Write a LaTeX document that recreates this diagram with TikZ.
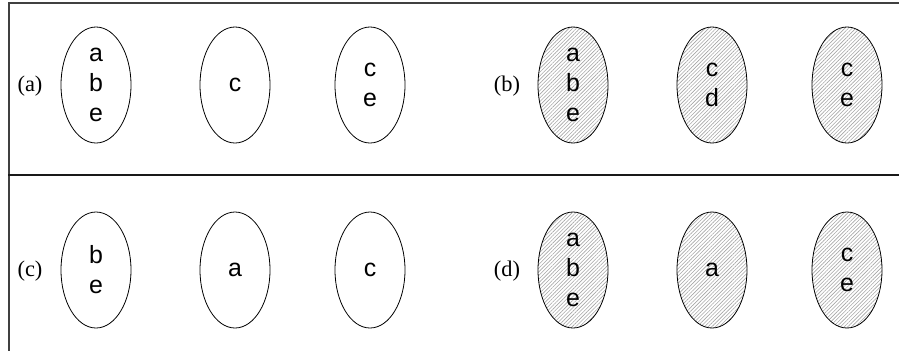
\documentclass[tikz,border=0pt]{standalone}
\usepackage{fontspec}
\setmainfont{Liberation Serif}
\setsansfont{Liberation Sans}
\usetikzlibrary{shapes.geometric,patterns.meta}
\tikzset{
  setnode/.style={draw=black, line width=0.8bp, ellipse, minimum width=70bp, minimum height=116bp, inner sep=0pt,
    align=center, font=\sffamily\fontsize{25}{30}\selectfont},
  hatched/.style={setnode, fill=gray!12, pattern={Lines[angle=45,distance=2.6bp,line width=0.6bp]}, pattern color=gray!70},
  lbl/.style={font=\rmfamily\fontsize{22.5}{26}\selectfont, inner sep=0pt},
  frameline/.style={line width=1.5bp, draw=black!75},
}
\begin{document}
\begin{tikzpicture}[x=1bp,y=-1bp]
\useasboundingbox (0,0) rectangle (899,351);
% frame
\coordinate (tl) at (9,3);
\coordinate (tr) at (899,3);
\coordinate (bl) at (9,351);
\coordinate (ml) at (8,175);
\coordinate (mr) at (899,175);
\draw[frameline] (tr) -- (tl) -- (bl);
\draw[line width=2.2bp, black!90] (ml) -- (mr);
% (a)
\node[lbl] (la) at (30,86) {(a)};
\node[setnode] (a1) at (96,85) {a\\b\\e};
\node[setnode] (a2) at (235,85) {c};
\node[setnode] (a3) at (370,85) {c\\e};
% (b)
\node[lbl] (lb) at (507,86) {(b)};
\node[hatched] (b1) at (573,85) {a\\b\\e};
\node[hatched] (b2) at (712,85) {c\\d};
\node[hatched] (b3) at (847,85) {c\\e};
% (c)
\node[lbl] (lc) at (30,271) {(c)};
\node[setnode] (c1) at (96,270) {b\\e};
\node[setnode] (c2) at (235,270) {a};
\node[setnode] (c3) at (370,270) {c};
% (d)
\node[lbl] (ld) at (507,271) {(d)};
\node[hatched] (d1) at (573,270) {a\\b\\e};
\node[hatched] (d2) at (712,270) {a};
\node[hatched] (d3) at (847,270) {c\\e};
\end{tikzpicture}
\end{document}
